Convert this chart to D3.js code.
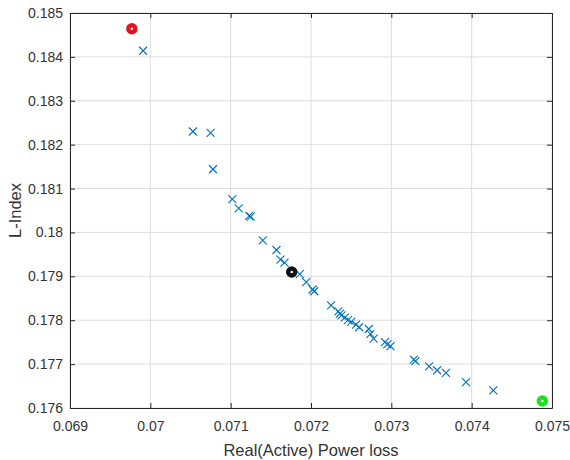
<!DOCTYPE html>
<html>
<head>
<meta charset="utf-8">
<script src="https://cdn.jsdelivr.net/npm/d3@7"></script>
<style>
  body { margin: 0; background: #fff; }
  text { font-family: "Liberation Sans", Arial, sans-serif; }
</style>
</head>
<body>
<div id="chart-container"></div>
<script>
// pareto front values
const powerLoss = [
  0.06991, 0.07053, 0.07075, 0.07078, 0.07102, 0.07110, 0.07123, 0.07125,
  0.07140, 0.07157, 0.07162, 0.07167, 0.07186, 0.07194, 0.07202, 0.07204,
  0.07225, 0.07234, 0.07236, 0.07238, 0.07242, 0.07246, 0.07250, 0.07256,
  0.07260, 0.07272, 0.07274, 0.07278, 0.07292, 0.07295, 0.07299, 0.07328,
  0.07330, 0.07347, 0.07357, 0.07368, 0.07393, 0.07427
];
const lIndex = [
  0.18414, 0.18230, 0.18227, 0.18144, 0.18076, 0.18055, 0.18038, 0.18036,
  0.17982, 0.17960, 0.17938, 0.17931, 0.17905, 0.17887, 0.17870, 0.17866,
  0.17834, 0.17820, 0.17815, 0.17811, 0.17806, 0.17800, 0.17796, 0.17790,
  0.17784, 0.17780, 0.17769, 0.17758, 0.17750, 0.17745, 0.17741, 0.17710,
  0.17707, 0.17695, 0.17686, 0.17680, 0.17659, 0.17640
];

// highlighted solutions (min L-index, compromise, min loss)
const specialLoss = [0.06977, 0.07176, 0.07488];
const specialLIndex = [0.18464, 0.17910, 0.17616];
const specialColors = ["#e8101a", "#111111", "#1ee01e"];

const xTicks = [0.069, 0.070, 0.071, 0.072, 0.073, 0.074, 0.075];
const xTickLabels = ["0.069", "0.07", "0.071", "0.072", "0.073", "0.074", "0.075"];
const yTicks = [0.176, 0.177, 0.178, 0.179, 0.180, 0.181, 0.182, 0.183, 0.184, 0.185];
const yTickLabels = ["0.176", "0.177", "0.178", "0.179", "0.18", "0.181", "0.182", "0.183", "0.184", "0.185"];

const W = 570, H = 460;
const margin = { top: 13, right: 18, bottom: 52, left: 70 };
const width = W - margin.left - margin.right;
const height = H - margin.top - margin.bottom;

const svg = d3.select("#chart-container")
  .append("svg")
  .attr("width", W)
  .attr("height", H)
  .append("g")
  .attr("transform", `translate(${margin.left},${margin.top})`);

const x = d3.scaleLinear().domain([0.069, 0.075]).range([0, width]);
const y = d3.scaleLinear().domain([0.176, 0.185]).range([height, 0]);

// grid
svg.selectAll(".xgrid")
  .data(xTicks)
  .join("line")
  .attr("x1", d => x(d)).attr("x2", d => x(d))
  .attr("y1", 0).attr("y2", height)
  .attr("stroke", "#dcdcdc").attr("stroke-width", 1);

svg.selectAll(".ygrid")
  .data(yTicks)
  .join("line")
  .attr("x1", 0).attr("x2", width)
  .attr("y1", d => y(d)).attr("y2", d => y(d))
  .attr("stroke", "#dcdcdc").attr("stroke-width", 1);

// axes, matlab style: ticks pointing inward, box on all sides
const tickLen = 5;
const xLabelFor = d => xTickLabels[xTicks.indexOf(d)];
const yLabelFor = d => yTickLabels[yTicks.indexOf(d)];

svg.append("g")
  .attr("transform", `translate(0,${height})`)
  .call(d3.axisBottom(x).tickValues(xTicks).tickFormat(xLabelFor)
    .tickSizeInner(-tickLen).tickSizeOuter(0).tickPadding(13))
  .call(g => g.selectAll("text").style("font-size", "14px").attr("fill", "#333"));

svg.append("g")
  .call(d3.axisTop(x).tickValues(xTicks).tickFormat("")
    .tickSizeInner(-tickLen).tickSizeOuter(0));

svg.append("g")
  .call(d3.axisLeft(y).tickValues(yTicks).tickFormat(yLabelFor)
    .tickSizeInner(-tickLen).tickSizeOuter(0).tickPadding(7))
  .call(g => g.selectAll("text").style("font-size", "14px").attr("fill", "#333"));

svg.append("g")
  .attr("transform", `translate(${width},0)`)
  .call(d3.axisRight(y).tickValues(yTicks).tickFormat("")
    .tickSizeInner(-tickLen).tickSizeOuter(0));

svg.selectAll(".domain").attr("stroke", "#262626");
svg.selectAll(".tick line").attr("stroke", "#262626");

// pareto points as x markers
const s = 4;
svg.append("g")
  .selectAll("path")
  .data(powerLoss.map((v, i) => [v, lIndex[i]]))
  .join("path")
  .attr("d", d => {
    const cx = x(d[0]), cy = y(d[1]);
    return `M${cx - s},${cy - s}L${cx + s},${cy + s}M${cx - s},${cy + s}L${cx + s},${cy - s}`;
  })
  .attr("stroke", "#0072bd")
  .attr("stroke-width", 1.1)
  .attr("fill", "none");

// highlighted solutions
svg.append("g")
  .selectAll("circle")
  .data(specialLoss.map((v, i) => [v, specialLIndex[i], specialColors[i]]))
  .join("circle")
  .attr("cx", d => x(d[0]))
  .attr("cy", d => y(d[1]))
  .attr("r", 3.5)
  .attr("fill", "none")
  .attr("stroke", d => d[2])
  .attr("stroke-width", 4.5);

// axis labels
svg.append("text")
  .attr("x", width / 2)
  .attr("y", height + 48)
  .attr("text-anchor", "middle")
  .style("font-size", "16.5px")
  .attr("fill", "#333")
  .text("Real(Active) Power loss");

svg.append("text")
  .attr("transform", "rotate(-90)")
  .attr("x", -height / 2)
  .attr("y", -margin.left + 21)
  .attr("text-anchor", "middle")
  .style("font-size", "16.5px")
  .attr("fill", "#333")
  .text("L-Index");
</script>
</body>
</html>
